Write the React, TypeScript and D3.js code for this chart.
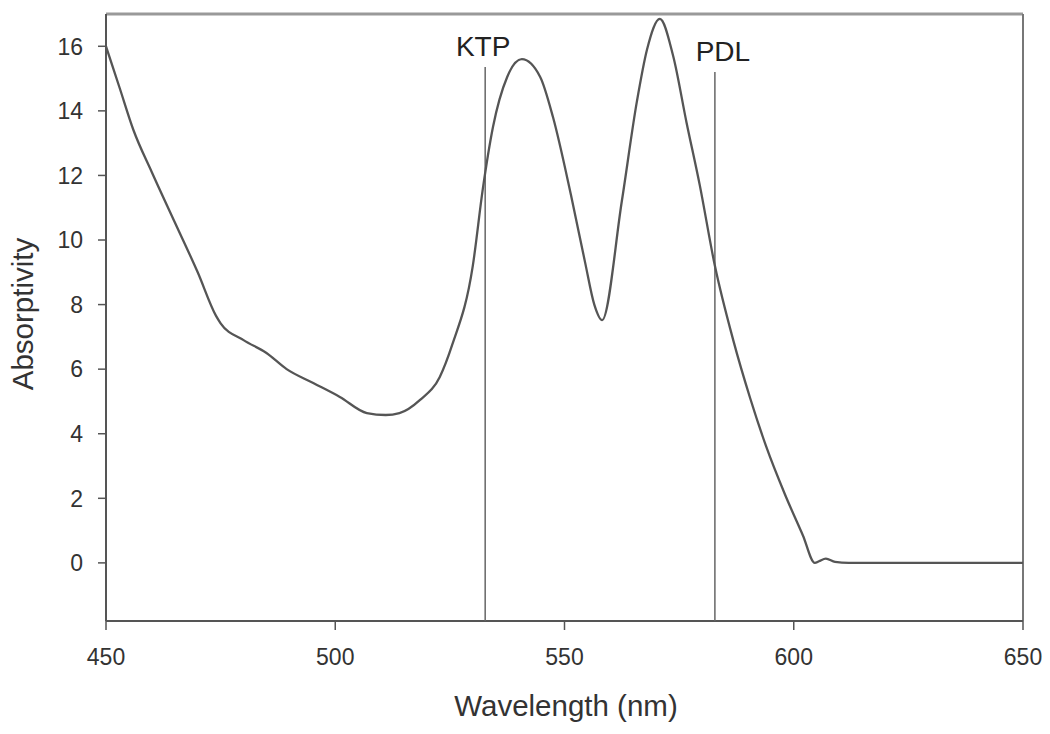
import React from 'react';
import * as d3 from 'd3';

// spectrum (wavelength nm, absorptivity)
const wavelengths = [
  450, 453, 456, 460, 465, 470, 474, 475, 480, 485, 489.4, 495.2, 501, 506.9, 511, 514,
  518.5, 522.8, 525.5, 530, 532.2, 534.4, 537.5, 540.7, 544.7, 547.5, 551.4, 554.5, 556.5,
  558.2, 562.5, 565.8, 568, 570.8, 573.7, 576.6, 579.5, 582.8, 586.8, 590.5, 594,
  598, 602, 604.6, 605.5, 607, 609, 612, 650,
];
const absorptivity = [
  16.0, 14.7, 13.4, 12.1, 10.55, 9.0, 7.65, 7.42, 6.9, 6.5, 6.0, 5.57, 5.14, 4.64, 4.58, 4.64,
  5.05, 5.76, 6.75, 9.2, 11.6, 13.5, 15.05, 15.6, 15.05, 13.8, 11.4, 9.3, 8.0,
  7.52, 11.2, 14.3, 15.9, 16.85, 15.7, 13.65, 11.7, 9.2, 6.9, 5.1, 3.6,
  2.15, 0.85, 0.0, 0.05, 0.13, 0.03, 0.0, 0.0,
];

const xTicks = [450, 500, 550, 600, 650];
const yTicks = [0, 2, 4, 6, 8, 10, 12, 14, 16];

// laser lines
const laserNames = ['KTP', 'PDL'];
const laserWavelengths = [532.7, 582.8];
const laserLabelDy = [0, 5];

const W = 1050;
const H = 734;
const left = 106, right = 1023, top = 14, bottom = 621;
const font = "'Liberation Sans', Arial, sans-serif";

export default function App() {
  const x = d3.scaleLinear().domain([450, 650]).range([left, right]);
  const y = d3.scaleLinear().domain([-1.8, 17]).range([bottom, top]);

  const pts = wavelengths.map((w, i) => [w, absorptivity[i]] as [number, number]);
  const line = d3.line<[number, number]>()
    .x(d => x(d[0]))
    .y(d => y(d[1]))
    .curve(d3.curveMonotoneX);

  return (
    <svg width={W} height={H} style={{ position: 'absolute', left: 0, top: 0, background: '#fff' }}>
      {/* frame */}
      <line x1={left} x2={right} y1={top} y2={top} stroke="#999" strokeWidth={3} />
      <line x1={right} x2={right} y1={top} y2={bottom} stroke="#777" strokeWidth={2} />
      <line x1={left} x2={left} y1={top} y2={bottom} stroke="#555" strokeWidth={2} />
      <line x1={left} x2={right} y1={bottom} y2={bottom} stroke="#555" strokeWidth={2} />

      {/* y axis */}
      {yTicks.map(t => (
        <g key={'y' + t}>
          <line x1={left - 8} x2={left} y1={y(t)} y2={y(t)} stroke="#555" strokeWidth={1.5} />
          <text x={left - 23} y={y(t)} dy="0.36em" textAnchor="end" fontFamily={font}
            fontSize={23} fill="#333">{t}</text>
        </g>
      ))}

      {/* x axis */}
      {xTicks.map(t => (
        <g key={'x' + t}>
          <line x1={x(t)} x2={x(t)} y1={bottom} y2={bottom + 9} stroke="#555" strokeWidth={1.5} />
          <text x={x(t)} y={665} textAnchor="middle" fontFamily={font}
            fontSize={23} fill="#333">{t}</text>
        </g>
      ))}

      <text x={566} y={716} textAnchor="middle" fontFamily={font}
        fontSize={29.5} fill="#333">Wavelength (nm)</text>
      <text transform={`translate(33,${314}) rotate(-90)`} textAnchor="middle"
        fontFamily={font} fontSize={29.5} fill="#333">Absorptivity</text>

      {/* laser markers */}
      {laserNames.map((n, i) => (
        <g key={n}>
          <line x1={x(laserWavelengths[i])} x2={x(laserWavelengths[i])}
            y1={67 + laserLabelDy[i]} y2={bottom} stroke="#666" strokeWidth={1.5} />
          <text x={x(laserWavelengths[i]) + (i === 0 ? -2 : 8)} y={56 + laserLabelDy[i]}
            textAnchor="middle" fontFamily={font} fontSize={28} fill="#222">{n}</text>
        </g>
      ))}

      <path d={line(pts) || ''} fill="none" stroke="#555" strokeWidth={2.3} />
    </svg>
  );
}
